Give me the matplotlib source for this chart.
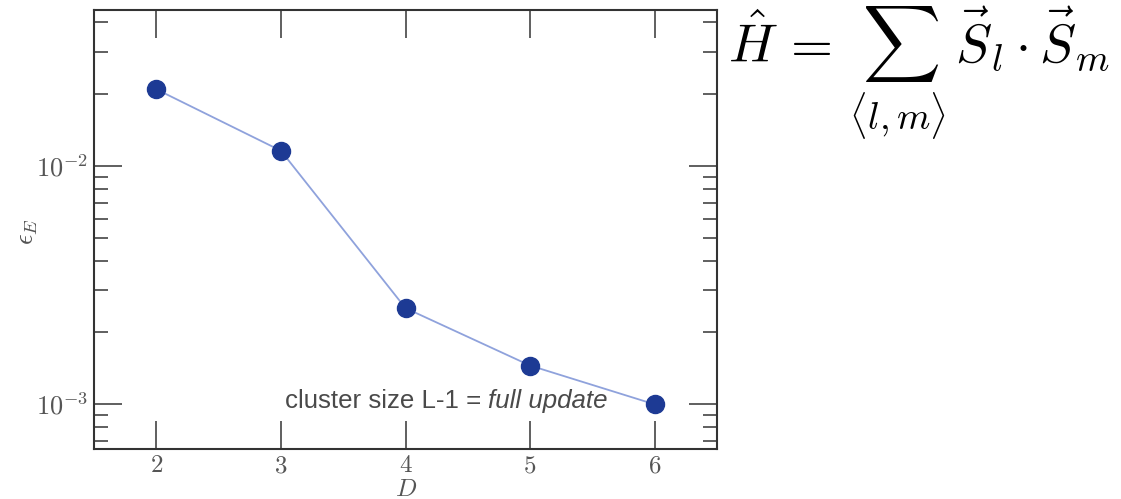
import matplotlib
matplotlib.use("Agg")
import matplotlib.pyplot as plt
import numpy as np

plt.rcParams['mathtext.fontset'] = 'cm'

D = [2, 3, 4, 5, 6]
eps_E = [0.0209, 0.01155, 0.00253, 0.001454, 0.001]
ytick_vals = [1e-3, 1e-2]
ytick_labels = [r'$10^{-3}$', r'$10^{-2}$']
note = "cluster size L-1 = "
note_it = "full update"

fig = plt.figure(figsize=(11.21, 4.99), dpi=100)
ax = fig.add_axes([94/1121, 50/499, 623/1121, 439/499])

ax.plot(D, eps_E, '-', color='#8fa2dc', lw=1.3, zorder=2)
ax.plot(D, eps_E, 'o', color='#1d3a94', ms=13, mec='#1d3a94', zorder=3)

ax.set_yscale('log')
ax.set_xlim(1.5, 6.5)
ax.set_ylim(6.5e-4, 0.0449)
ax.set_xticks(D)
ax.set_xticklabels([r'$%d$' % d for d in D])
ax.set_yticks(ytick_vals)
ax.set_yticklabels(ytick_labels)

ax.tick_params(which='both', direction='in', top=True, right=True,
               color='#444444', labelcolor='#555555', labelsize=18)
ax.tick_params(axis='y', labelsize=19)
ax.tick_params(which='major', length=20, width=1.2)
ax.tick_params(which='minor', length=10, width=1.2)
ax.tick_params(axis='x', which='minor', bottom=False, top=False)
ax.tick_params(axis='x', pad=3)
ax.tick_params(axis='y', pad=4)
for s in ax.spines.values():
    s.set_color('#333333')
    s.set_linewidth(1.5)

# axis labels placed by hand
fig.text(406/1121, 1 - 496/499, r'$D$', fontsize=18, color='#555555',
         ha='center', va='baseline')
fig.text(27/1121, 1 - 232/499, r'$\epsilon_E$', fontsize=19, color='#555555',
         ha='center', va='center', rotation=90)

ax.text(0.306, 0.11, note, transform=ax.transAxes, fontsize=18.6,
        family='Liberation Sans', color='#4a4a4a', va='center', ha='left')
t = ax.text(0.0, 0.0, note_it, fontsize=18.6, family='Liberation Sans',
            style='italic', color='#4a4a4a', va='center', ha='left')
fig.canvas.draw()
bb = ax.texts[0].get_window_extent()
inv = ax.transAxes.inverted()
x1 = inv.transform((bb.x1, bb.y0))[0]
t.set_position((x1, 0.11))
t.set_transform(ax.transAxes)

fig.text(728/1121, 1 - 74/499,
         r'$\hat{H}\,=\,\sum_{\langle l,m\rangle}\,\vec{S}_l\cdot\vec{S}_m$',
         fontsize=39, color='black', va='center', ha='left')

fig.savefig('out.png', dpi=100)
